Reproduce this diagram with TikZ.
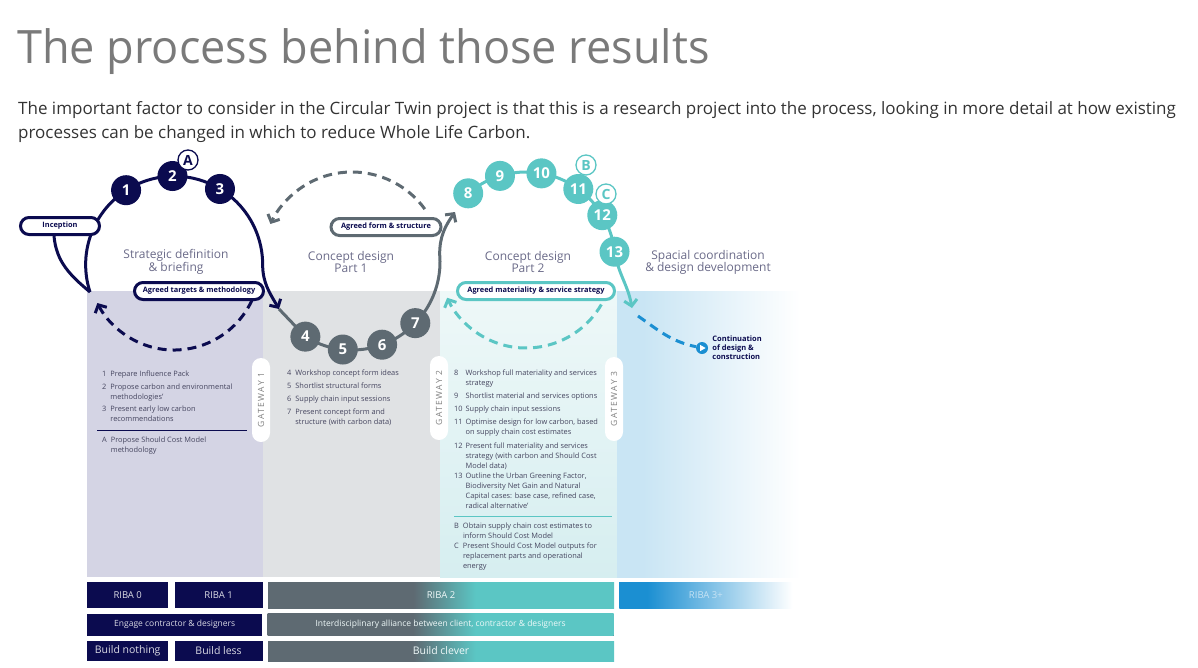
\documentclass[tikz,border=0pt]{standalone}
\usepackage{fontspec}
\setmainfont{Open Sans}
\newfontfamily\titlefont[FakeStretch=0.98]{Open Sans}
\newfontfamily\gatefont[LetterSpace=18]{Open Sans}
\usepackage{tikz}
\usetikzlibrary{arrows.meta, positioning, calc}
\definecolor{navyc}{HTML}{0B0B4F}
\definecolor{slatec}{HTML}{5E6A72}
\definecolor{tealc}{HTML}{5BC6C4}
\definecolor{bluec}{HTML}{1B8FD2}
\definecolor{lavc}{HTML}{D4D4E4}
\definecolor{greyc}{HTML}{E0E2E4}
\definecolor{aquac}{HTML}{D6EEF0}
\definecolor{aquatop}{HTML}{EEF8F8}
\definecolor{skyc}{HTML}{C9E5F4}
\definecolor{phasec}{HTML}{6A6A88}
\definecolor{listc}{HTML}{45455F}
\definecolor{titlec}{HTML}{7A7A7A}
\definecolor{bodyc}{HTML}{333333}
\pgfdeclarehorizontalshading{ribatwo}{100bp}{color(0bp)=(slatec); color(46bp)=(slatec); color(55bp)=(tealc); color(100bp)=(tealc)}
\pgfdeclarehorizontalshading{ribathree}{100bp}{color(0bp)=(bluec); color(33bp)=(bluec); color(75bp)=(white); color(100bp)=(white)}
\pgfdeclarehorizontalshading{skyfade}{100bp}{color(0bp)=(skyc); color(32bp)=(skyc); color(75bp)=(white); color(100bp)=(white)}

\begin{document}
\begin{tikzpicture}[x=1pt, y=1pt, >={Straight Barb[length=6pt, width=13pt]},
    numdot/.style={circle, fill=#1, minimum size=30pt, inner sep=0pt, text=white, font=\bfseries\fontsize{15}{15}\selectfont},
    letterdot/.style={circle, draw=#1, line width=1.3pt, fill=white, minimum size=20pt, inner sep=0pt, text=#1, font=\bfseries\fontsize{14}{14}\selectfont},
    pill/.style={draw=#1, line width=3pt, fill=white, rounded corners=8.5pt, minimum height=17pt, inner xsep=5pt, inner ysep=0pt, text=navyc, font=\bfseries\fontsize{7.4}{8}\selectfont},
    ring/.style={draw=#1, line width=3pt},
    ringdash/.style={draw=#1, line width=3pt, dash pattern=on 9pt off 6pt},
    phasetext/.style={text=phasec, align=center, font=\fontsize{12}{12}\selectfont},
    steplist/.style={anchor=north west, inner sep=0pt, text=listc, font=\fontsize{7.4}{10}\selectfont},
    gate/.style={fill=white, rounded corners=9pt, minimum width=84pt, minimum height=18pt, inner sep=0pt, text=gray, font=\gatefont\fontsize{8.5}{8.5}\selectfont},
    ribabar/.style={anchor=north west, inner sep=0pt, text=white!85!navyc, fill=#1},
]
    \useasboundingbox (0,0) rectangle (1198,-667);

    % Heading
    \node[anchor=base west, inner sep=0pt, text=titlec, font=\titlefont\fontsize{46}{46}\selectfont] (title) at (17,-63) {The process behind those results};
    \node[anchor=base west, inner sep=0pt, text=bodyc, align=left, font=\fontsize{17}{24}\selectfont] (intro) at (18,-138) {The important factor to consider in the Circular Twin project is that this is a research project into the process, looking in more detail at how existing\\processes can be changed in which to reduce Whole Life Carbon.};

    % Phase panels
    \fill[lavc] (87,-291) rectangle (263,-577);
    \fill[greyc] (263,-291) rectangle (440,-577);
    \fill[top color=aquatop, bottom color=aquac] (440,-291) rectangle (617,-577);
    \shade[shading=skyfade] (617,-291) rectangle (800,-577);

    \node[gate, rotate=90] (gate1) at (261,-400) {GATEWAY 1};
    \node[gate, rotate=90] (gate2) at (439,-398) {GATEWAY 2};
    \node[gate, rotate=90] (gate3) at (614,-399) {GATEWAY 3};

    % Loops
    \coordinate (c1) at (174,-264);
    \coordinate (c2) at (352,-262);
    \coordinate (c3) at (526,-261);
    \coordinate (navystart) at (90,-292);
    \coordinate (navyend) at (279,-309);
    \coordinate (slateend) at (455,-212);
    \coordinate (tealend) at (632,-308);
    \coordinate (contstart) at (638,-316);
    \coordinate (p4) at ($(c2)+(238:88)$);
    \coordinate (p8) at ($(c3)+(130.5:89)$);

    \draw[ringdash=navyc, ->] ($(c1)+(-25:86)$) arc[start angle=-25, end angle=-153, radius=86];
    \draw[ringdash=slatec, ->] ($(c2)+(36:90)$) arc[start angle=36, end angle=155, radius=90];
    \draw[ringdash=tealc, ->] ($(c3)+(-30:87)$) arc[start angle=-30, end angle=-155, radius=87];

    \draw[ring=slatec] (navyend) -- (p4);
    \draw[ring=navyc, ->] (navystart) arc[start angle=198, end angle=0, radius=88.5] to[out=-90, in=120] (navyend);
    \draw[ring=slatec, ->] (p4) arc[start angle=238, end angle=365, radius=88] to[out=90, in=-125] (slateend);
    \draw[ring=tealc, ->] (p8) arc[start angle=130.5, end angle=6, radius=89] to[out=-80, in=100] (tealend);

    \node[circle, fill=bluec, minimum size=12pt, inner sep=0pt] (cont) at (702,-348) {};
    \fill[white] ($(cont)+(-2,3.2)$) -- ($(cont)+(3.6,0)$) -- ($(cont)+(-2,-3.2)$) -- cycle;
    \draw[ringdash=bluec] (contstart) to[out=-35, in=168] (cont);
    \node[right=4pt of cont, inner sep=0pt, text=navyc, align=left, font=\bfseries\fontsize{7.5}{9}\selectfont] (contlabel) {Continuation\\of design \&\\construction};

    % Numbered steps
    \node[numdot=navyc] (n1) at ($(c1)+(123:88)$) {1};
    \node[numdot=navyc] (n2) at ($(c1)+(91:88)$) {2};
    \node[numdot=navyc] (n3) at ($(c1)+(58.5:88)$) {3};
    \node[numdot=slatec] (n4) at (p4) {4};
    \node[numdot=slatec] (n5) at ($(c2)+(264:88)$) {5};
    \node[numdot=slatec] (n6) at ($(c2)+(290:88)$) {6};
    \node[numdot=slatec] (n7) at ($(c2)+(316:88)$) {7};
    \node[numdot=tealc] (n8) at (p8) {8};
    \node[numdot=tealc] (n9) at ($(c3)+(107:89)$) {9};
    \node[numdot=tealc] (n10) at ($(c3)+(80:89)$) {10};
    \node[numdot=tealc] (n11) at ($(c3)+(54:89)$) {11};
    \node[numdot=tealc] (n12) at ($(c3)+(31:89)$) {12};
    \node[numdot=tealc] (n13) at ($(c3)+(6:89)$) {13};

    \node[letterdot=navyc] (la) at (188,-160) {A};
    \node[letterdot=tealc] (lb) at (586,-165) {B};
    \node[letterdot=tealc] (lc) at (606,-194) {C};

    % Agreed outcomes
    \node[pill=navyc, minimum width=79pt] (inception) at (60,-226) {Inception};
    \draw[ring=navyc] ([xshift=-6pt]inception.south) to[out=-85, in=140] (navystart);
    \node[pill=navyc, minimum width=129pt] (targets) at (199,-291) {Agreed targets \& methodology};
    \node[pill=slatec, minimum width=110pt] (form) at (386,-227) {Agreed form \& structure};
    \node[pill=tealc, minimum width=157pt] (materiality) at (536,-291) {Agreed materiality \& service strategy};

    \node[phasetext] (strategic) at (176,-262) {Strategic definition\\\& briefing};
    \node[phasetext] (concept1) at (351,-262) {Concept design\\Part 1};
    \node[phasetext] (concept2) at (528,-262) {Concept design\\Part 2};
    \node[phasetext] (spacial) at (708,-262) {Spacial coordination\\\& design development};

    % Task lists
    \node[steplist] (tasks1) at (102,-369) {\begin{tabular}{@{}l@{\hspace{4pt}}l@{}}
      1 & Prepare Influence Pack\\[3pt]
      2 & Propose carbon and environmental\\
        & methodologies'\\[2pt]
      3 & Present early low carbon\\
        & recommendations
    \end{tabular}};
    \draw[navyc, line width=0.6pt] ($(tasks1.south west)+(-5,-6)$) -- ($(tasks1.south west)+(145,-6)$);
    \node[steplist, below=11pt of tasks1.south west, anchor=north west] (tasks1a) {\begin{tabular}{@{}l@{\hspace{4pt}}l@{}}
      A & Propose Should Cost Model\\
        & methodology
    \end{tabular}};

    \node[steplist] (tasks2) at (287,-368) {\begin{tabular}{@{}l@{\hspace{4pt}}l@{}}
      4 & Workshop concept form ideas\\[3pt]
      5 & Shortlist structural forms\\[3pt]
      6 & Supply chain input sessions\\[3pt]
      7 & Present concept form and\\
        & structure (with carbon data)
    \end{tabular}};

    \node[steplist] (tasks3) at (454,-368) {\begin{tabular}{@{}l@{\hspace{3pt}}l@{}}
      8 & Workshop full materiality and services\\
        & strategy\\[3pt]
      9 & Shortlist material and services options\\[3pt]
      10 & Supply chain input sessions\\[3pt]
      11 & Optimise design for low carbon, based\\
         & on supply chain cost estimates\\[4pt]
      12 & Present full materiality and services\\
         & strategy (with carbon and Should Cost\\
         & Model data)\\
      13 & Outline the Urban Greening Factor,\\
         & Biodiversity Net Gain and Natural\\
         & Capital cases: base case, refined case,\\
         & radical alternative'
    \end{tabular}};
    \draw[tealc, line width=0.6pt] ($(tasks3.south west)+(0,-5)$) -- ($(tasks3.south west)+(158,-5)$);
    \node[steplist, below=10pt of tasks3.south west, anchor=north west] (tasks3b) {\begin{tabular}{@{}l@{\hspace{4pt}}l@{}}
      B & Obtain supply chain cost estimates to\\
        & inform Should Cost Model\\
      C & Present Should Cost Model outputs for\\
        & replacement parts and operational\\
        & energy
    \end{tabular}};

    % RIBA stages
    \node[ribabar=navyc, minimum width=81pt, minimum height=26pt, font=\fontsize{9.5}{9.5}\selectfont] (riba0) at (87,-582) {RIBA 0};
    \node[ribabar=navyc, right=6pt of riba0, minimum width=88pt, minimum height=26pt, font=\fontsize{9.5}{9.5}\selectfont] (riba1) {RIBA 1};
    \node[ribabar=slatec, shade, shading=ribatwo, right=5pt of riba1, minimum width=346pt, minimum height=26pt, text=white!90!tealc, font=\fontsize{9.5}{9.5}\selectfont] (riba2) {RIBA 2};
    \node[ribabar=bluec, shade, shading=ribathree, right=5pt of riba2, minimum width=173pt, minimum height=26pt, text=white!75!bluec, font=\fontsize{9.5}{9.5}\selectfont] (riba3) {RIBA 3+};

    \node[ribabar=navyc, below=5pt of riba0.south west, anchor=north west, minimum width=175pt, minimum height=22pt, font=\fontsize{8.5}{8.5}\selectfont] (engage) {Engage contractor \& designers};
    \node[ribabar=slatec, shade, shading=ribatwo, right=5pt of engage, minimum width=346pt, minimum height=22pt, text=white!90!tealc, font=\fontsize{8.5}{8.5}\selectfont] (alliance) {Interdisciplinary alliance between client, contractor \& designers};

    \node[ribabar=navyc, below=5pt of engage.south west, anchor=north west, minimum width=81pt, minimum height=20pt, font=\fontsize{10.5}{10.5}\selectfont] (nothing) {Build nothing};
    \node[ribabar=navyc, right=6pt of nothing, minimum width=88pt, minimum height=20pt, font=\fontsize{10.5}{10.5}\selectfont] (less) {Build less};
    \node[ribabar=slatec, shade, shading=ribatwo, right=5pt of less, minimum width=346pt, minimum height=20pt, text=white!90!tealc, font=\fontsize{10.5}{10.5}\selectfont] (clever) {Build clever};
\end{tikzpicture}
\end{document}
